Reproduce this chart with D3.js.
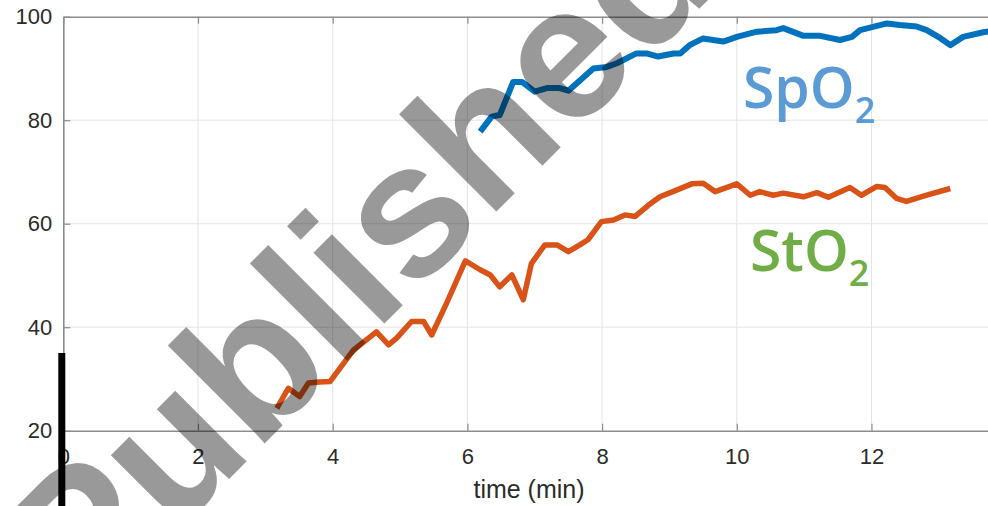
<!DOCTYPE html>
<html>
<head>
<meta charset="utf-8">
<script src="https://cdn.jsdelivr.net/npm/d3@7"></script>
<style>
  html, body { margin: 0; padding: 0; background: #fff; }
  svg { display: block; }
</style>
</head>
<body>
<svg id="chart" width="988" height="506"></svg>
<script>
// Oxygen saturation over time: pulse oximetry (SpO2) and tissue (StO2)
const spo2Time = [6.19, 6.36, 6.48, 6.68, 6.81, 7.0, 7.18, 7.37, 7.50, 7.87, 8.07, 8.22, 8.51, 8.66, 8.83, 9.06, 9.16, 9.30, 9.50, 9.80, 10.0, 10.3, 10.59, 10.69, 10.99, 11.24, 11.53, 11.71, 11.83, 12.23, 12.42, 12.67, 12.82, 13.03, 13.17, 13.36, 13.66, 13.75];
const spo2Values = [77.8, 80.7, 81.0, 87.4, 87.4, 85.5, 86.2, 86.2, 85.7, 90.0, 90.3, 91.0, 92.9, 92.9, 92.3, 92.9, 92.9, 94.5, 95.8, 95.2, 96.1, 97.1, 97.4, 97.8, 96.3, 96.3, 95.5, 96.1, 97.4, 98.7, 98.4, 98.1, 97.4, 95.8, 94.5, 96.1, 97.0, 97.2];

const sto2Time = [3.17, 3.34, 3.51, 3.64, 3.80, 3.96, 4.31, 4.65, 4.83, 4.95, 5.17, 5.35, 5.47, 5.69, 5.97, 6.19, 6.34, 6.48, 6.66, 6.83, 6.95, 7.15, 7.33, 7.50, 7.67, 7.79, 7.99, 8.17, 8.34, 8.49, 8.69, 8.86, 9.05, 9.33, 9.50, 9.68, 10.0, 10.2, 10.34, 10.54, 10.69, 10.99, 11.19, 11.36, 11.68, 11.85, 12.08, 12.2, 12.37, 12.52, 12.82, 13.17];
const sto2Values = [24.3, 28.2, 26.6, 29.2, 29.4, 29.5, 35.6, 39.1, 36.6, 37.9, 41.1, 41.1, 38.5, 44.6, 52.8, 51.1, 50.1, 47.8, 50.1, 45.3, 52.3, 55.9, 55.9, 54.6, 55.9, 56.9, 60.4, 60.7, 61.7, 61.4, 63.6, 65.2, 66.2, 67.7, 67.8, 66.2, 67.7, 65.5, 66.2, 65.5, 65.9, 65.2, 66.0, 65.1, 67.0, 65.5, 67.2, 67.0, 64.9, 64.3, 65.5, 66.8];

const xTicks = [0, 2, 4, 6, 8, 10, 12];
const yTicks = [20, 40, 60, 80, 100];
const xDomain = [0, 13.73];
const yDomain = [20, 100];
const xLabel = "time (min)";
const watermark = "Published";

const svg = d3.select("#chart");
const plotLeft = 63.3, plotRight = 988, plotTop = 16.7, plotBottom = 430.7;

const x = d3.scaleLinear().domain(xDomain).range([plotLeft, plotRight]);
const y = d3.scaleLinear().domain(yDomain).range([plotBottom, plotTop]);

// grid
const grid = svg.append("g");
grid.selectAll("line.v").data(xTicks.filter(d => d > 0)).join("line")
  .attr("x1", d => x(d)).attr("x2", d => x(d))
  .attr("y1", plotTop).attr("y2", plotBottom)
  .attr("stroke", "#e4e4e4").attr("stroke-width", 1);
grid.selectAll("line.h").data(yTicks.filter(d => d > 20 && d < 100)).join("line")
  .attr("x1", plotLeft).attr("x2", plotRight)
  .attr("y1", d => y(d)).attr("y2", d => y(d))
  .attr("stroke", "#e4e4e4").attr("stroke-width", 1);

// axes
const tickFont = "'Liberation Sans', Arial, sans-serif";
function styleAxis(g) {
  g.select(".domain").attr("stroke", "#8c8c8c").attr("stroke-width", 1.6);
  g.selectAll(".tick line").attr("stroke", "#8c8c8c").attr("stroke-width", 1.2);
  g.selectAll(".tick text").attr("fill", "#2b2b2b")
    .style("font-family", tickFont).style("font-size", "22px");
}
svg.append("g").attr("transform", `translate(0,${plotBottom})`)
  .call(d3.axisBottom(x).tickValues(xTicks).tickSize(-7).tickPadding(18).tickSizeOuter(0))
  .call(styleAxis);
svg.append("g").attr("transform", `translate(0,${plotTop})`)
  .call(d3.axisTop(x).tickValues(xTicks).tickSize(-7).tickFormat("").tickSizeOuter(0))
  .call(styleAxis);
svg.append("g").attr("transform", `translate(${plotLeft},0)`)
  .call(d3.axisLeft(y).tickValues(yTicks).tickSize(-7).tickPadding(11).tickSizeOuter(0))
  .call(styleAxis);

svg.append("text")
  .attr("x", 529).attr("y", 498)
  .attr("text-anchor", "middle")
  .attr("fill", "#2b2b2b")
  .style("font-family", tickFont).style("font-size", "25px")
  .text(xLabel);

// series
svg.append("clipPath").attr("id", "plot")
  .append("rect").attr("x", plotLeft).attr("y", 0)
  .attr("width", plotRight - plotLeft).attr("height", 506);

const line = d3.line().x(d => x(d[0])).y(d => y(d[1]));

svg.append("path")
  .datum(d3.zip(sto2Time, sto2Values))
  .attr("clip-path", "url(#plot)")
  .attr("d", line)
  .attr("fill", "none").attr("stroke", "#D95319")
  .attr("stroke-width", 5.5).attr("stroke-linejoin", "round").attr("stroke-linecap", "butt");

svg.append("path")
  .datum(d3.zip(spo2Time, spo2Values))
  .attr("clip-path", "url(#plot)")
  .attr("d", line)
  .attr("fill", "none").attr("stroke", "#0072BD")
  .attr("stroke-width", 6).attr("stroke-linejoin", "round").attr("stroke-linecap", "butt");

// series labels
const labelFont = "'Open Sans', 'Noto Sans', sans-serif";
function seriesLabel(px, py, main, color) {
  const t = svg.append("text").attr("x", px).attr("y", py)
    .attr("fill", color)
    .style("font-family", labelFont).style("font-weight", 600).style("font-size", "57px");
  t.append("tspan").text(main);
  t.append("tspan").attr("dy", 15).style("font-size", "36px").text("2");
}
seriesLabel(743, 108, "SpO", "#5B9BD5");
seriesLabel(750, 271, "StO", "#70AD47");

// watermark
svg.append("text")
  .attr("transform", "translate(84,624) rotate(-45)")
  .attr("fill", "#000").attr("fill-opacity", 0.4)
  .style("font-family", tickFont).style("font-weight", 700).style("font-size", "190px")
  .text(watermark);

// black marker bar at the origin
svg.append("rect")
  .attr("x", x(0) - 5).attr("y", 353)
  .attr("width", 7).attr("height", 506 - 353)
  .attr("fill", "#000");
</script>
</body>
</html>
